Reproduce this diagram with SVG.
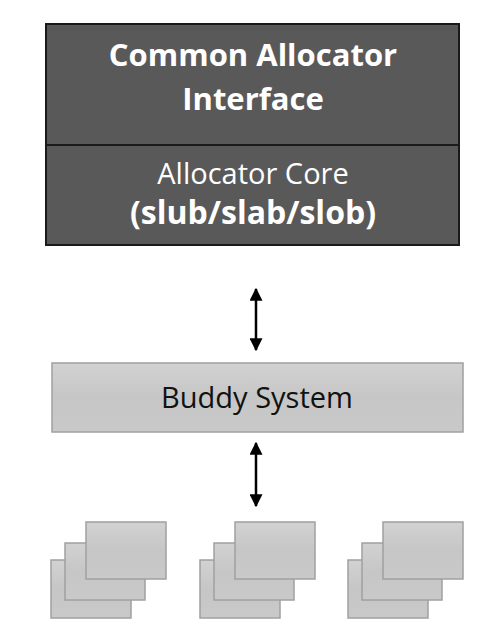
<svg xmlns="http://www.w3.org/2000/svg" width="500" height="642" viewBox="0 0 500 642">
<style>
.dark{fill:#595959;stroke:#1a1a1a;stroke-width:2}
.gray{fill:url(#g);stroke:#a0a0a0;stroke-width:1.5}
.wb{font-family:"Open Sans","Liberation Sans",sans-serif;font-weight:bold;fill:#ffffff;text-anchor:middle}
.wr{font-family:"Open Sans","Liberation Sans",sans-serif;fill:#ffffff;text-anchor:middle}
.br{font-family:"Open Sans","Liberation Sans",sans-serif;fill:#111111;text-anchor:middle}
.conn{stroke:#000;stroke-width:2.5;fill:none;marker-start:url(#a);marker-end:url(#a)}
</style>
<defs>
<linearGradient id="g" x1="0" y1="0" x2="0" y2="1">
<stop offset="0" stop-color="#d2d2d2"/>
<stop offset="0.5" stop-color="#c6c6c6"/>
<stop offset="1" stop-color="#c9c9c9"/>
</linearGradient>
<marker id="a" viewBox="0 0 10 10" refX="9" refY="5" markerWidth="5.2" markerHeight="5.2" markerUnits="strokeWidth" orient="auto-start-reverse">
<path d="M0,0 L10,5 L0,10 z" fill="#000"/>
</marker>
</defs>
<g id="allocator">
<rect class="dark" x="46" y="24" width="413" height="221"/>
<line x1="46" y1="145" x2="459" y2="145" stroke="#1a1a1a" stroke-width="2"/>
<text class="wb" x="253" y="66" font-size="31">Common Allocator</text>
<text class="wb" x="253" y="110" font-size="31">Interface</text>
<text class="wr" x="253" y="184" font-size="29">Allocator Core</text>
<text class="wb" x="253" y="224" font-size="32">(slub/slab/slob)</text>
</g>
<g id="buddy">
<rect class="gray" x="52" y="363" width="411" height="69"/>
<text class="br" x="257" y="408" font-size="29">Buddy System</text>
</g>
<g id="pages1">
<rect class="gray" x="51" y="560" width="80" height="58"/>
<rect class="gray" x="65" y="543" width="80" height="57"/>
<rect class="gray" x="86" y="522" width="80" height="57"/>
</g>
<g id="pages2">
<rect class="gray" x="200" y="560" width="80" height="58"/>
<rect class="gray" x="214" y="543" width="80" height="57"/>
<rect class="gray" x="235" y="522" width="80" height="57"/>
</g>
<g id="pages3">
<rect class="gray" x="348" y="560" width="80" height="58"/>
<rect class="gray" x="362" y="543" width="80" height="57"/>
<rect class="gray" x="383" y="522" width="80" height="57"/>
</g>
<g id="connectors">
<line class="conn" x1="256" y1="289" x2="256" y2="350"/>
<line class="conn" x1="256" y1="443" x2="256" y2="506"/>
</g>
</svg>
